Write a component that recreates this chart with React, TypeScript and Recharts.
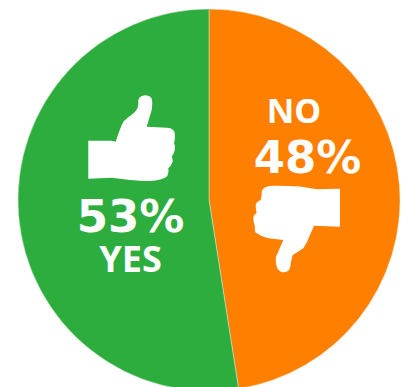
import React from "react";
import { PieChart, Pie, Cell } from "recharts";

const categories = ["NO", "YES"];
const shares = [48, 53];
const sliceColors = ["#FF7F00", "#2DAD3E"];

const data = categories.map((name, i) => ({ name, value: shares[i] }));

const thumbUp =
    "M88.3 140.7 L111.7 140.7 L115.7 141.7 Q118 134 121.7 125 Q124 120 128.3 117.3 Q133 114 135 111.7 Q138.5 108 138.3 103 Q137.5 96 145 95.3 Q152.5 95.5 152.3 102 Q152 108 151.7 110 L146.7 126.7 L166.7 127.7 Q175 128 175 135 Q175 140 174 143 Q175.5 146 175 149 Q174 154 171.7 156.7 Q173 159 172.7 161.7 Q171 166 168.3 168.3 Q169 174 166.7 176.7 Q162 180 150 181 Q140 181 130 180 L111.7 177.7 L88.3 178.7 Z";

const thumbDown =
    "M340 188.7 L317.3 189.3 L300 186.5 Q285 185.5 273.3 185.7 Q262 186 261.7 192 Q262 196 260.7 200 Q255 202 255.7 207 Q256 211 256.7 213 Q253 215 253.3 219 Q253.5 223 255 226.7 Q254 232 256.7 233.3 Q262 237 268.3 238.3 L283.3 240 L276 256.7 Q275 262 277.3 268.3 Q280 272.5 283.3 272.3 Q289 272 290 268 Q291 261 292.7 255 Q298 252 303.3 248.3 Q307 243 310 235 L314 225.7 L340 226.7 Z";

const numberFont = "'DejaVu Sans', sans-serif";

// Icons and captions sit on top of the slices
const Overlay = () => (
    <svg
        width={404}
        height={387}
        style={{ position: "absolute", left: 0, top: 0 }}
        fill="#FFFFFF"
        fontFamily="'Noto Sans', sans-serif"
        fontWeight={700}
    >
        <path d={thumbUp} />
        <path d={thumbDown} />
        <text x={130.5} y={232} fontSize={45} fontFamily={numberFont} textAnchor="middle">{`${shares[1]}%`}</text>
        <text x={130.5} y={272} fontSize={36} textAnchor="middle">{categories[1]}</text>
        <text x={294} y={123} fontSize={34} textAnchor="middle">{categories[0]}</text>
        <text x={307.5} y={173} fontSize={45} fontFamily={numberFont} textAnchor="middle">{`${shares[0]}%`}</text>
    </svg>
);

const App: React.FC = () => {
    return (
        <div style={{ position: "absolute", left: 0, top: 0, width: 404, height: 387, overflow: "hidden" }}>
            <PieChart width={404} height={387} margin={{ top: 0, right: 0, bottom: 0, left: 0 }}>
                <Pie
                    data={data}
                    dataKey="value"
                    cx={209}
                    cy={200}
                    innerRadius={0}
                    outerRadius={191}
                    startAngle={90}
                    endAngle={-270}
                    stroke="#DDE8D0"
                    strokeWidth={0.5}
                    isAnimationActive={false}
                >
                    {data.map((d, i) => (
                        <Cell key={d.name} fill={sliceColors[i]} />
                    ))}
                </Pie>
            </PieChart>
            <Overlay />
        </div>
    );
};

export default App;
